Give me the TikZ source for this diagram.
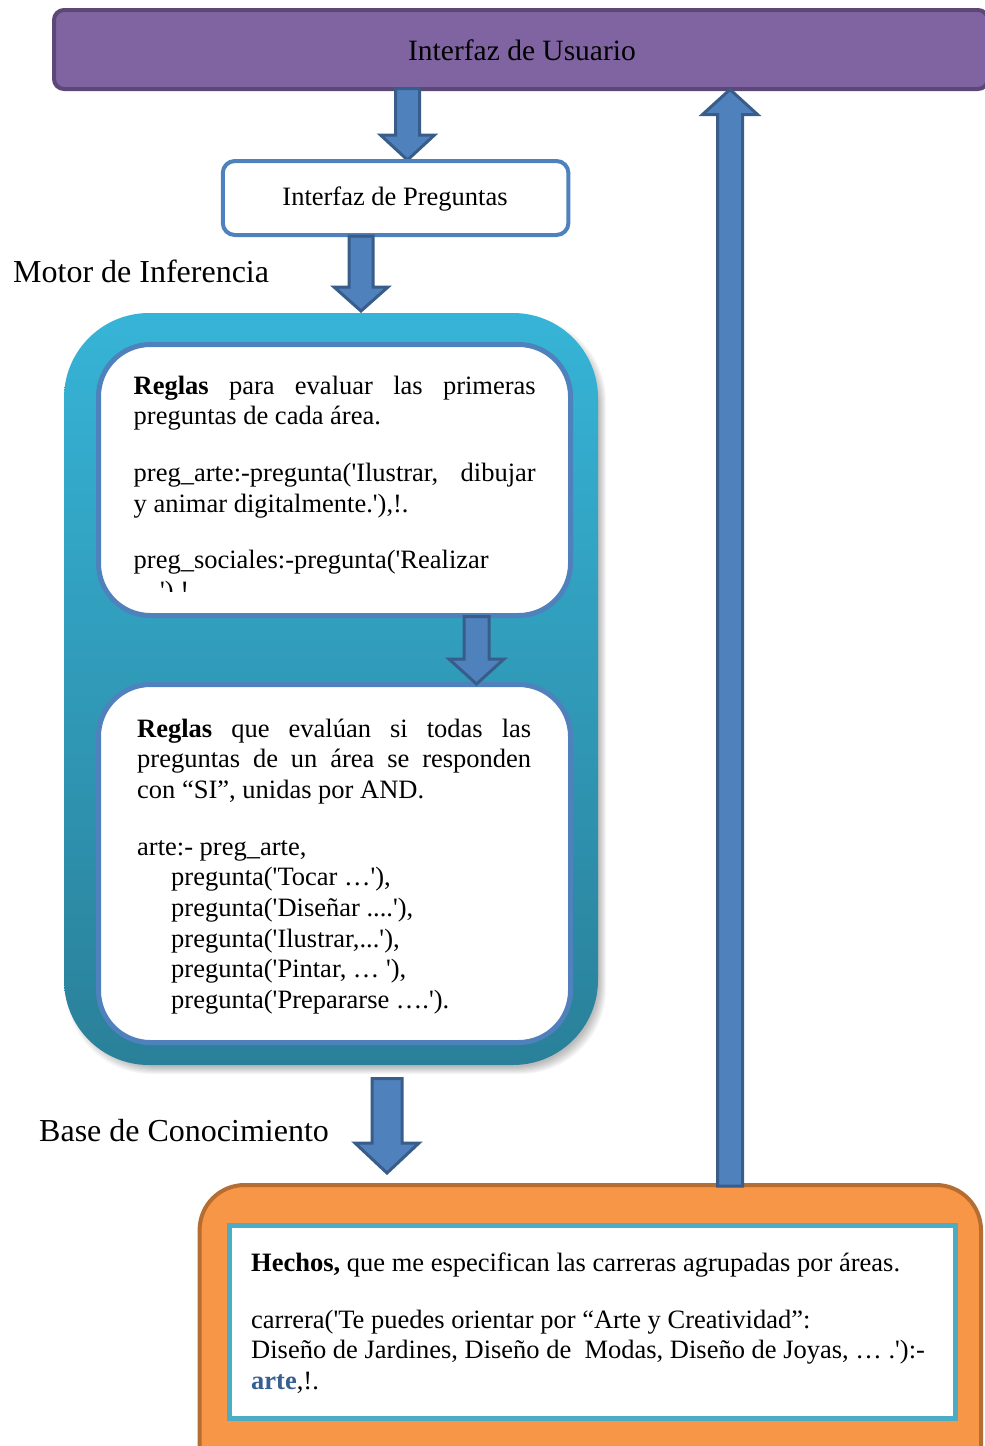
\documentclass[tikz,border=0pt]{standalone}
\usepackage{fontspec}
\newfontfamily\tnr{Liberation Serif}
\usetikzlibrary{calc}
\definecolor{purp}{HTML}{8064A2}
\definecolor{purpd}{HTML}{5C4776}
\definecolor{arrf}{HTML}{4F81BD}
\definecolor{arrd}{HTML}{385D8A}
\definecolor{boxb}{HTML}{4F81BD}
\definecolor{tealtop}{HTML}{36B4D7}
\definecolor{tealbot}{HTML}{2A8099}
\definecolor{orng}{HTML}{F79646}
\definecolor{orngd}{HTML}{B66D31}
\definecolor{cyanb}{HTML}{4BACC6}
\definecolor{artecol}{HTML}{376092}
\newcommand\blockarrow[5]{%
  \path ($(#2)!#5pt!(#1)$) coordinate (hb);
  \draw[barrow] let \p1=(#1),\p2=(#2),\p3=(hb) in
    (\x1-#3pt,\y1) -- (\x1+#3pt,\y1) -- (\x1+#3pt,\y3) -- (\x1+#4pt,\y3) --
    (\x2,\y2) -- (\x1-#4pt,\y3) -- (\x1-#3pt,\y3) -- cycle;}
\newcommand\natsp{\spaceskip=0pt\xspaceskip=0pt\relax}
\begin{document}
\begin{tikzpicture}[x=1pt,y=-1pt,
  body/.style={font=\tnr\fontsize{26.5}{30.7}\selectfont, inner sep=0pt, anchor=base west, align=left},
  big/.style={font=\tnr\fontsize{32}{36}\selectfont, inner sep=0pt, anchor=base west},
  barrow/.style={fill=arrf, draw=arrd, line width=3pt, line join=miter},
  innerbox/.style={fill=white, draw=boxb, line width=5pt, rounded corners=52pt}]
\useasboundingbox (0,0) rectangle (985,1446);
\fill[white] (0,0) rectangle (985,1446);

% teal container with soft shadow
\foreach \d in {0,1,...,7}
  \fill[black, opacity=0.035, rounded corners=85pt]
    ({64+9-\d},{313+10-\d}) rectangle ({598+1+\d},{1065+2+\d});
\shade[top color=tealtop, bottom color=tealbot, rounded corners=85pt]
  (64,313) rectangle (598,1065);

% inner rule boxes
\draw[innerbox] (98.5,344.5) rectangle (570.5,615.5);
\draw[innerbox] (98.5,684.5) rectangle (570.5,1042.5);

\begin{scope}
\clip (100,346) rectangle (569,591);
\node[body, text width=402pt] (r1txt) at (133.5,394) {\natsp
\makebox[402pt][s]{\textbf{Reglas} para evaluar las primeras}\\
preguntas de cada área.\\[26pt]
\makebox[402pt][s]{preg\_arte:-pregunta('Ilustrar, dibujar}\\
y animar digitalmente.'),!.\\[26pt]
preg\_sociales:-pregunta('Realizar\\
…'),!.};
\end{scope}

\node[body, text width=394pt] (r2txt) at (137,737) {\natsp
\makebox[394pt][s]{\textbf{Reglas} que evalúan si todas las}\\
\makebox[394pt][s]{preguntas de un área se responden}\\
con “SI”, unidas por AND.\\[26pt]
arte:- preg\_arte,\\
\hspace*{34pt}pregunta('Tocar …'),\\
\hspace*{34pt}pregunta('Diseñar ....'),\\
\hspace*{34pt}pregunta('Ilustrar,...'),\\
\hspace*{34pt}pregunta('Pintar, … '),\\
\hspace*{34pt}pregunta('Prepararse ….').};

\coordinate (a3s) at (476.5,616.5);
\coordinate (a3e) at (476.5,684);
\blockarrow{a3s}{a3e}{12.5}{27.5}{25}

% user interface bar
\draw[fill=purp, draw=purpd, line width=4pt, rounded corners=10pt] (54,10) rectangle (988,89);
\node[font=\tnr\fontsize{29.5}{34}\selectfont, inner sep=0pt, anchor=base] (uitxt) at (522,60) {Interfaz de Usuario};

\coordinate (a1s) at (407.5,88.5);
\coordinate (a1e) at (407.5,160);
\blockarrow{a1s}{a1e}{12}{27}{25}

% question interface
\draw[fill=white, draw=boxb, line width=4pt, rounded corners=12pt] (222.8,161) rectangle (568.4,235);
\node[font=\tnr\fontsize{26.5}{31}\selectfont, inner sep=0pt, anchor=base] (iptxt) at (395,205) {Interfaz de Preguntas};

\coordinate (a2s) at (361,236);
\coordinate (a2e) at (361,311);
\blockarrow{a2s}{a2e}{12}{27}{24}

\node[big] (motor) at (13,282) {Motor de Inferencia};

% knowledge base
\draw[fill=orng, draw=orngd, line width=4pt, rounded corners=45pt] (199.6,1185) rectangle (981,1490);
\draw[fill=white, draw=cyanb, line width=5pt] (229.5,1225) rectangle (955,1418.5);
\node[body, text width=700pt] (hechos) at (251,1271) {\natsp
\textbf{Hechos,} que me especifican las carreras agrupadas por áreas.\\[26.3pt]
carrera('Te puedes orientar por “Arte y Creatividad”:\\
Diseño de Jardines, Diseño de~ Modas, Diseño de Joyas, … .'):-\\
\textcolor{artecol}{\textbf{arte}},!.};

\node[big] (base) at (39,1141) {Base de Conocimiento};

\coordinate (a4s) at (387,1078.5);
\coordinate (a4e) at (387,1173);
\blockarrow{a4s}{a4e}{15}{32}{30}

\coordinate (a5s) at (730,1186);
\coordinate (a5e) at (730,89.5);
\blockarrow{a5s}{a5e}{12.5}{27.5}{25}
\end{tikzpicture}
\end{document}
